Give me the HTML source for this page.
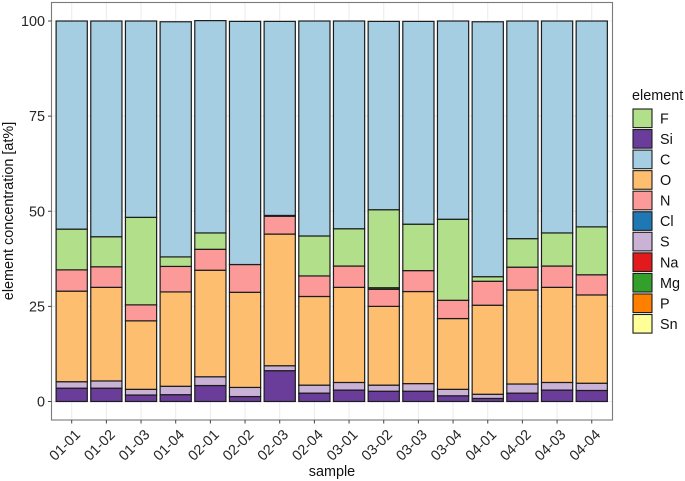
<!DOCTYPE html>
<html>
<head>
<meta charset="utf-8">
<style>
html,body{margin:0;padding:0;background:#fff;width:685px;height:481px;overflow:hidden}
svg{display:block;font-family:"Liberation Sans",sans-serif}
</style>
</head>
<body>
<svg id="chart" width="685" height="481" viewBox="0 0 685 481"></svg>
<script>
const samples = ["01-01","01-02","01-03","01-04","02-01","02-02","02-03","02-04","03-01","03-02","03-03","03-04","04-01","04-02","04-03","04-04"];
const yTicks = [0,25,50,75,100];
const legendOrder = ["F","Si","C","O","N","Cl","S","Na","Mg","P","Sn"];
const stackOrder = ["Si","S","O","N","Mg","Na","Cl","P","Sn","F","C"];
const colors = {F:"#b2df8a",Si:"#6a3d9a",C:"#a6cee3",O:"#fdbf6f",N:"#fb9a99",Cl:"#1f78b4",S:"#cab2d6",Na:"#e31a1c",Mg:"#33a02c",P:"#ff7f00",Sn:"#ffff99"};
const valuesSi = [3.5,3.5,1.7,1.8,4.2,1.3,8.1,2.2,3,2.7,2.7,1.5,0.8,2.2,3,2.9];
const valuesS = [1.7,1.9,1.5,2.2,2.3,2.4,1.3,2.1,2,1.6,2,1.7,1.1,2.4,2,1.9];
const valuesO = [23.8,24.6,18,24.8,28,25,34.6,23.3,25,20.7,24.2,18.6,23.4,24.7,25,23.2];
const valuesN = [5.6,5.4,4.2,6.7,5.5,7.3,4.7,5.4,5.6,4.5,5.5,4.8,6.3,6,5.6,5.3];
const valuesMg = [0,0,0,0,0,0,0,0,0,0.4,0,0,0,0,0,0];
const valuesNa = [0,0,0,0,0,0,0,0,0,0,0,0,0,0,0,0];
const valuesCl = [0,0,0,0,0,0,0,0,0,0,0,0,0,0,0,0];
const valuesP = [0,0,0,0,0,0,0,0,0,0,0,0,0,0,0,0];
const valuesSn = [0,0,0,0,0,0,0,0,0,0,0,0,0,0,0,0];
const valuesF = [10.7,7.9,23,2.5,4.3,0,0.2,10.5,9.8,20.5,12.2,21.3,1.2,7.5,8.7,12.6];
const valuesC = [54.7,56.7,51.6,61.8,55.8,63.9,51,56.5,54.6,49.5,53.3,52.1,67,57.2,55.7,54.1];
const seriesValues = {Si:valuesSi,S:valuesS,O:valuesO,N:valuesN,Mg:valuesMg,Na:valuesNa,Cl:valuesCl,P:valuesP,Sn:valuesSn,F:valuesF,C:valuesC};

const svg = document.getElementById('chart');
const NS = 'http://www.w3.org/2000/svg';
const panel = {left:51.5,right:612.5,top:2.5,bottom:420};
const y0 = 401.5, yPerUnit = 3.805;
const x0 = 71.7, xStep = 34.67, barW = 31.2;
function xScale(i){return x0 + i*xStep;}
function yScale(v){return y0 - v*yPerUnit;}
function make(tag, attrs, parent){
  const el = document.createElementNS(NS, tag);
  for (const k in attrs) el.setAttribute(k, attrs[k]);
  (parent||svg).appendChild(el);
  return el;
}

// gridlines
yTicks.forEach(function(t){
  const g = make('line',{x1:panel.left,x2:panel.right,y1:yScale(t),y2:yScale(t),stroke:'#ececec','stroke-width':1});
  
  
});
samples.forEach(function(s,i){
  const g = make('line',{x1:xScale(i),x2:xScale(i),y1:panel.top,y2:panel.bottom,stroke:'#ececec','stroke-width':1});
  
  
});

// bars
samples.forEach(function(s,i){
  let cum = 0;
  stackOrder.forEach(function(el){
    const v = seriesValues[el][i];
    if (!v) return;
    const top = cum + v;
    const r = make('rect',{x:xScale(i)-barW/2,y:yScale(top),width:barW,height:yScale(cum)-yScale(top),fill:colors[el],stroke:'#1c1c1c','stroke-width':1.2});
    
    
    cum = top;
  });
});

// panel border
const border = make('rect',{x:panel.left,y:panel.top,width:panel.right-panel.left,height:panel.bottom-panel.top,fill:'none',stroke:'#7a7a7a','stroke-width':1.1});



// y ticks
yTicks.forEach(function(t){
  const m = make('line',{x1:panel.left-3.5,x2:panel.left,y1:yScale(t),y2:yScale(t),stroke:'#444','stroke-width':1});
  
  
  const l = make('text',{x:45,y:yScale(t)+5,'text-anchor':'end','font-size':14.4,fill:'#262626'});
  l.textContent = t;
  
  
});

// x ticks
samples.forEach(function(s,i){
  const x = xScale(i);
  const m = make('line',{x1:x,x2:x,y1:panel.bottom,y2:panel.bottom+3.5,stroke:'#444','stroke-width':1});
  
  
  const ax = x+9.5, ay = 435.5;
  const l = make('text',{x:ax,y:ay,'text-anchor':'end','font-size':14.4,fill:'#262626',transform:'rotate(-45 '+ax+' '+ay+')'});
  l.textContent = s;
  
  
});

// axis titles
const xt = make('text',{x:332,y:476,'text-anchor':'middle','font-size':14.4,fill:'#111'});
xt.textContent = 'sample';


const yt = make('text',{x:13,y:211,'text-anchor':'middle','font-size':14.4,fill:'#111',transform:'rotate(-90 13 211)'});
yt.textContent = 'element concentration [at%]';



// legend
const lt = make('text',{x:632,y:100,'font-size':14.4,fill:'#111'});
lt.textContent = 'element';


legendOrder.forEach(function(el,i){
  const top = 109 + i*20.55;
  const r = make('rect',{x:633,y:top,width:19,height:18.6,fill:colors[el],stroke:'#1c1c1c','stroke-width':1.1});
  
  
  const t = make('text',{x:660,y:top+14.4,'font-size':14.4,fill:'#111'});
  t.textContent = el;
  
  
});
</script>
</body>
</html>
